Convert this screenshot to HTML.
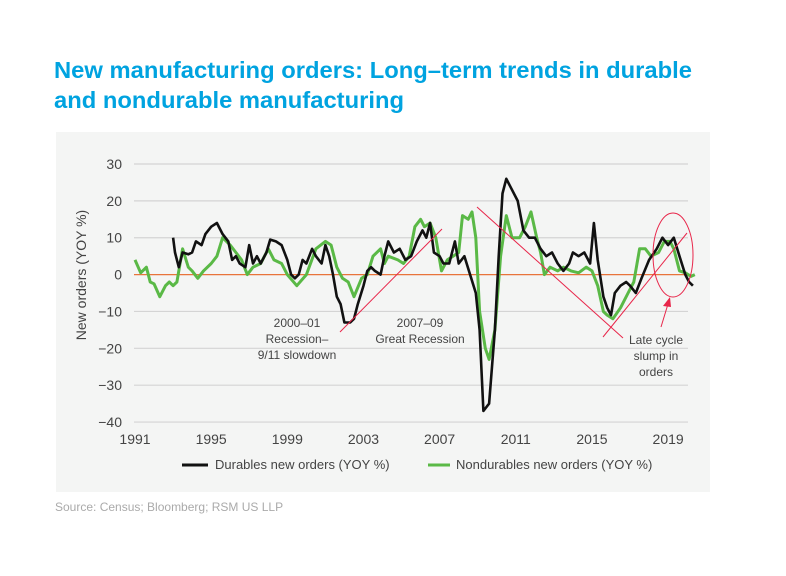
<!DOCTYPE html>
<html><head><meta charset="utf-8"><style>
html,body{margin:0;padding:0;background:#fff;}
svg{display:block;font-family:"Liberation Sans",sans-serif;}
</style></head><body>
<svg id="s" width="786" height="576" xmlns="http://www.w3.org/2000/svg">
<text x="54" y="78" font-size="23" font-weight="bold" fill="#00a3e0" textLength="638" lengthAdjust="spacingAndGlyphs">New manufacturing orders: Long–term trends in durable</text>
<text x="54" y="108" font-size="23" font-weight="bold" fill="#00a3e0" textLength="350" lengthAdjust="spacingAndGlyphs">and nondurable manufacturing</text>
<rect x="56" y="132" width="654" height="360" fill="#f4f5f4"/>
<g id="grid" stroke="#d4d4d4" stroke-width="1.2"></g>
<g id="ylab" font-size="14" fill="#444" text-anchor="end"></g>
<g id="xlab" font-size="14" fill="#444" text-anchor="middle"></g>
<line x1="134" x2="688" y1="274.6" y2="274.6" stroke="#e8743b" stroke-width="1.3"/>
<text transform="translate(86,275) rotate(-90)" font-size="14" fill="#444" text-anchor="middle">New orders (YOY %)</text>
<polyline id="g" fill="none" stroke="#5ab946" stroke-width="3" stroke-linejoin="round"/>
<polyline id="b" fill="none" stroke="#111" stroke-width="2.6" stroke-linejoin="round"/>
<g stroke="#e8264a" stroke-width="1" fill="none">
<line x1="340" y1="332" x2="442" y2="229"/>
<line x1="477" y1="207" x2="623" y2="338"/>
<line x1="603" y1="337" x2="687" y2="233"/>
<ellipse cx="673" cy="255" rx="20" ry="42"/>
<line x1="661" y1="327" x2="668" y2="304"/>
</g>
<polygon points="670,297 663,306 671,307" fill="#e8264a"/>
<g font-size="12" fill="#444" text-anchor="middle">
<text x="297" y="327">2000–01</text>
<text x="297" y="343">Recession–</text>
<text x="297" y="359">9/11 slowdown</text>
<text x="420" y="327">2007–09</text>
<text x="420" y="343">Great Recession</text>
<text x="656" y="344">Late cycle</text>
<text x="656" y="360">slump in</text>
<text x="656" y="376">orders</text>
</g>
<line x1="182" x2="208" y1="465" y2="465" stroke="#111" stroke-width="3"/>
<text x="215" y="469" font-size="13" fill="#444">Durables new orders (YOY %)</text>
<line x1="428" x2="450" y1="465" y2="465" stroke="#5ab946" stroke-width="3"/>
<text x="456" y="469" font-size="13" fill="#444">Nondurables new orders (YOY %)</text>
<text x="55" y="511" font-size="12" fill="#aaa">Source: Census; Bloomberg; RSM US LLP</text>
</svg>
<script>
var NS="http://www.w3.org/2000/svg";
function X(t){return 135+(t-1991)*19.04;}
function Y(v){return 274.6-v*3.686;}
var grid=document.getElementById('grid'),yl=document.getElementById('ylab'),xl=document.getElementById('xlab');
for(var v=-40;v<=30;v+=10){
 if(v!==0){var l=document.createElementNS(NS,'line');l.setAttribute('x1',134);l.setAttribute('x2',688);l.setAttribute('y1',Y(v));l.setAttribute('y2',Y(v));grid.appendChild(l);}
 var t=document.createElementNS(NS,'text');t.setAttribute('x',122);t.setAttribute('y',Y(v)+5);t.textContent=(v<0?'−'+(-v):v);yl.appendChild(t);
}
[1991,1995,1999,2003,2007,2011,2015,2019].forEach(function(y){var t=document.createElementNS(NS,'text');t.setAttribute('x',X(y));t.setAttribute('y',444);t.textContent=y;xl.appendChild(t);});
var B=[1993.0,10,1993.1,6,1993.3,2,1993.5,6,1993.8,5.5,1994,6,1994.2,9,1994.5,8,1994.7,11,1995,13,1995.3,14,1995.6,11,1995.9,9,1996.1,4,1996.3,5,1996.5,3,1996.8,2,1997,8,1997.2,3,1997.4,5,1997.6,3,1997.9,6,1998.1,9.5,1998.4,9,1998.7,8,1999,4,1999.2,0,1999.4,-1,1999.6,0,1999.8,4,2000,3,2000.3,7,2000.5,5,2000.8,3,2001,8,2001.2,5,2001.4,0,2001.6,-6,2001.8,-8,2002,-13,2002.3,-13,2002.5,-12,2002.7,-8,2003,-3,2003.2,1,2003.4,2,2003.6,1,2003.9,0,2004.1,5,2004.3,9,2004.6,6,2004.9,7,2005.2,4,2005.5,5,2005.8,9,2006.1,12,2006.3,10,2006.5,14,2006.7,6,2007,5,2007.2,3,2007.5,3,2007.8,9,2008,3,2008.3,5,2008.6,0,2008.9,-5,2009.1,-15,2009.3,-37,2009.6,-35,2009.9,-15,2010.1,5,2010.3,22,2010.5,26,2010.8,23,2011.1,20,2011.4,12,2011.7,10,2012,10,2012.3,7,2012.6,5,2012.9,6,2013.2,3,2013.5,1,2013.8,3,2014,6,2014.3,5,2014.6,6,2014.9,3,2015.1,14,2015.3,4,2015.6,-6,2015.8,-9,2016,-11,2016.2,-5,2016.5,-3,2016.8,-2,2017,-3,2017.3,-5,2017.6,-1,2018,4,2018.4,7,2018.7,10,2019,8,2019.3,10,2019.6,5,2019.9,0,2020.1,-2,2020.3,-3];
var G=[1991,4,1991.3,0.5,1991.6,2,1991.8,-2,1992,-2.5,1992.3,-6,1992.6,-3,1992.8,-2,1993,-3,1993.2,-2,1993.5,7,1993.8,2,1994,1,1994.3,-1,1994.6,1,1995,3,1995.3,5,1995.6,10,1996,8,1996.3,6,1996.6,4,1996.9,0,1997.2,2,1997.6,3,1998,7,1998.3,4,1998.7,3,1999,0,1999.5,-3,2000,0,2000.5,7,2001,9,2001.3,8,2001.6,2,2001.9,-1,2002.2,-2,2002.5,-6,2002.9,-1,2003.2,0,2003.5,5,2003.9,7,2004.1,3,2004.3,5,2004.8,4,2005.1,3,2005.4,5,2005.7,13,2006,15,2006.2,13,2006.5,14,2006.8,10,2007.1,1,2007.4,4,2007.7,5,2008,6,2008.2,16,2008.5,15,2008.7,17,2008.9,10,2009.1,-10,2009.4,-20,2009.6,-23,2009.9,-15,2010.2,5,2010.5,16,2010.8,10,2011.2,10,2011.5,13,2011.8,17,2012.1,10,2012.3,6,2012.5,0,2012.8,2,2013.2,1,2013.5,2,2013.9,1,2014.3,0.5,2014.7,2,2015,1,2015.3,-3,2015.6,-10,2015.8,-11,2016.1,-12,2016.5,-9,2016.9,-5,2017.2,-2,2017.5,7,2017.8,7,2018.1,5,2018.5,6,2018.8,9,2019.1,9,2019.3,7,2019.6,1,2019.9,0.5,2020.2,-0.5,2020.4,0];
function pts(a){var s=[];for(var i=0;i<a.length;i+=2)s.push(X(a[i]).toFixed(1)+','+Y(a[i+1]).toFixed(1));return s.join(' ');}
document.getElementById('b').setAttribute('points',pts(B));
document.getElementById('g').setAttribute('points',pts(G));
</script>
</body></html>
